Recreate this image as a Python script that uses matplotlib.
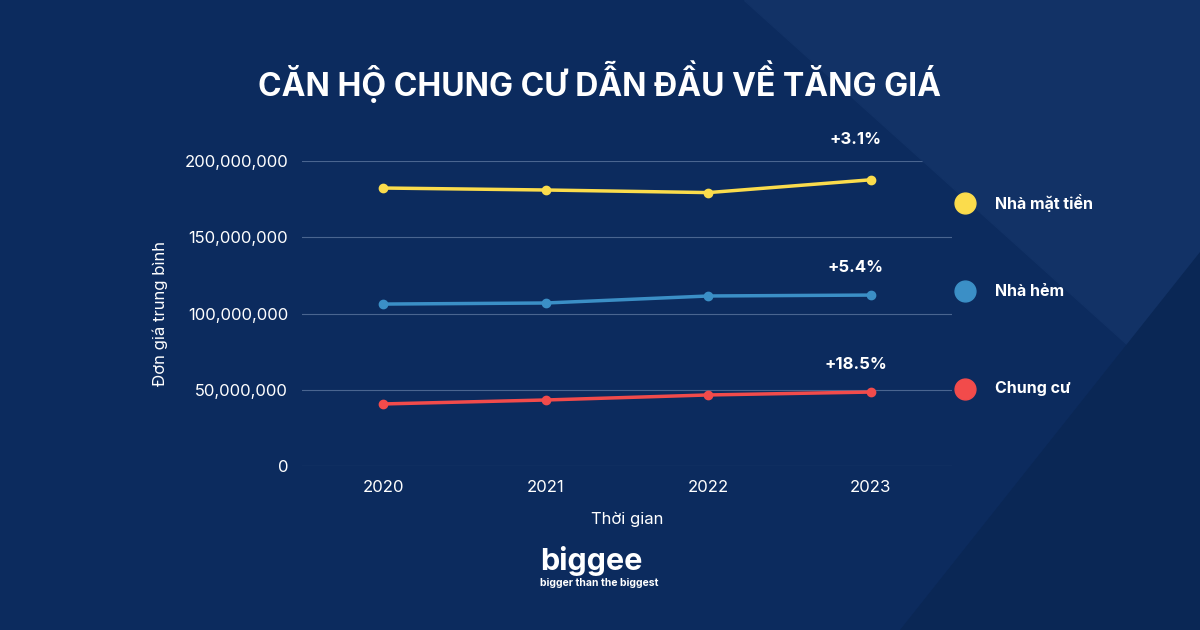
import matplotlib
matplotlib.use("Agg")
import matplotlib.pyplot as plt
from matplotlib.ticker import FuncFormatter
from matplotlib.patches import Polygon

plt.rcParams["font.family"] = "Inter"

years = ["2020", "2021", "2022", "2023"]
mat_tien = [182_300_000, 181_000_000, 179_300_000, 187_700_000]
hem = [106_200_000, 106_900_000, 111_500_000, 112_100_000]
chung_cu = [40_700_000, 43_300_000, 46_600_000, 48_500_000]
series_names = ["Nhà mặt tiền", "Nhà hẻm", "Chung cư"]
growth = ["+3.1%", "+5.4%", "+18.5%"]
colors = ["#fbdc4c", "#3b8fc6", "#f24b4b"]
label_offsets = [29, 20, 20]

bg = "#0c2b5e"
fig = plt.figure(figsize=(12, 6.3), dpi=100, facecolor=bg)
fig.patches.append(Polygon([(0.62, 1.0), (1.0, 1.0), (1.0, 0.35)], closed=True,
                           transform=fig.transFigure, color="#123266", zorder=0, figure=fig))
fig.patches.append(Polygon([(0.75, 0.0), (1.0, 0.0), (1.0, 0.6)], closed=True,
                           transform=fig.transFigure, color="#0a2755", zorder=0, figure=fig))

ax = fig.add_axes([0.2517, 0.2603, 0.5417, 0.4841])
ax.set_facecolor("none")
x = list(range(len(years)))
for vals, c, g, off in zip([mat_tien, hem, chung_cu], colors, growth, label_offsets):
    ax.plot(x, vals, color=c, lw=2.5, marker="o", ms=6, zorder=3, clip_on=False)
    ax.annotate(g, (x[-1], vals[-1]), xytext=(-11, off), textcoords="offset points",
                ha="center", va="center", color="white", fontsize=12, fontweight="bold",
                annotation_clip=False)
ax.set_xlim(-0.5, 3.5)
ax.set_ylim(0, 200_000_000)
ax.set_yticks([0, 50_000_000, 100_000_000, 150_000_000, 200_000_000])
ax.yaxis.set_major_formatter(FuncFormatter(lambda v, p: f"{int(v):,}"))
ax.set_xticks(x)
ax.set_xticklabels(years)
ax.grid(axis="y", color="#4a6590", lw=0.8)
for s in ax.spines.values():
    s.set_visible(False)
ax.tick_params(colors="white", labelsize=12, length=0, pad=10)
ax.set_xlabel("Thời gian", color="white", fontsize=12, labelpad=12)
ax.set_ylabel("Đơn giá trung bình", color="white", fontsize=12, labelpad=12)

leg_y = [0.678, 0.538, 0.383]
for yv, n, c in zip(leg_y, series_names, colors):
    fig.add_artist(plt.Line2D([965 / 1200], [yv], marker="o", ms=15, color=c,
                              transform=fig.transFigure, linestyle="none"))
    fig.text(995 / 1200, yv, n, color="white", fontsize=11.5, fontweight="bold", va="center")

fig.text(0.5, 0.87, "CĂN HỘ CHUNG CƯ DẪN ĐẦU VỀ TĂNG GIÁ", color="white", fontsize=23,
         fontweight="bold", ha="center", va="center")
fig.text(0.45, 0.11, "biggee", color="white", fontsize=22, fontweight="bold", va="center")
fig.text(0.45, 0.075, "bigger than the biggest", color="white", fontsize=7.5, fontweight="bold", va="center")

fig.savefig("out.png", dpi=100, facecolor=bg)
